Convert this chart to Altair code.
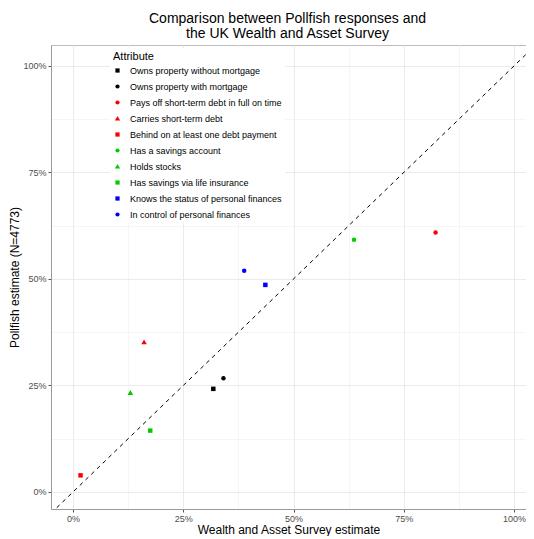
import altair as alt
import pandas as pd

attributes = [
    "Owns property without mortgage",
    "Owns property with mortgage",
    "Pays off short-term debt in full on time",
    "Carries short-term debt",
    "Behind on at least one debt payment",
    "Has a savings account",
    "Holds stocks",
    "Has savings via life insurance",
    "Knows the status of personal finances",
    "In control of personal finances",
]
was_estimate = [0.318, 0.341, 0.822, 0.161, 0.017, 0.637, 0.130, 0.175, 0.436, 0.388]
pollfish_estimate = [0.242, 0.267, 0.609, 0.352, 0.039, 0.592, 0.233, 0.144, 0.486, 0.519]
colors = ["black", "black", "red", "red", "red", "#00cc00", "#00cc00", "#00cc00", "blue", "blue"]
TRI = "M0,-1.15L1.25,1L-1.25,1Z"
shapes = ["square", "circle", "circle", TRI, "square", "circle", TRI, "square", "square", "circle"]

diag = [-0.05, 1.05]
tick_values = [0, 0.125, 0.25, 0.375, 0.5, 0.625, 0.75, 0.875, 1.0]

df = pd.DataFrame({"Attribute": attributes, "was": was_estimate, "pollfish": pollfish_estimate})
line_df = pd.DataFrame({"x": diag, "y": diag})

FONT = "Liberation Sans"
x_dom = [-0.05, 1.027]
y_dom = [-0.04, 1.049]

def make_axis(title, **kw):
    return alt.Axis(
        title=title,
        values=tick_values,
        labelExpr="datum.value % 0.25 == 0 ? format(datum.value, '.0%') : ''",
        tickOpacity={"condition": {"test": "datum.value % 0.25 == 0", "value": 1}, "value": 0},
        gridColor={"condition": {"test": "datum.value % 0.25 == 0", "value": "#e6e6e6"}, "value": "#f3f3f3"},
        gridWidth=0.8,
        tickColor="#555555",
        tickSize=3,
        labelPadding=2,
        domainColor="#9a9a9a",
        labelFont=FONT,
        labelFontSize=9,
        labelColor="#4d4d4d",
        titleFont=FONT,
        titleFontSize=12,
        titleFontWeight="normal",
        titleColor="black",
        **kw,
    )

x_enc = alt.X("was:Q", scale=alt.Scale(domain=x_dom, nice=False, zero=False),
              axis=make_axis("Wealth and Asset Survey estimate", titlePadding=1))
y_enc = alt.Y("pollfish:Q", scale=alt.Scale(domain=y_dom, nice=False, zero=False),
              axis=make_axis("Pollfish estimate (N=4773)", titleX=-30))

points = alt.Chart(df).mark_point(filled=True, size=20, opacity=1).encode(
    x=x_enc,
    y=y_enc,
    color=alt.Color("Attribute:N", scale=alt.Scale(domain=attributes, range=colors),
                    sort=attributes,
                    legend=alt.Legend(
                        orient="none", legendX=59, legendY=3,
                        title="Attribute", titleFont=FONT, titleFontSize=11,
                        titleFontWeight="normal", titleColor="black", titlePadding=4,
                        labelFont=FONT, labelFontSize=9, labelColor="black",
                        symbolSize=18, rowPadding=6, labelLimit=300, labelOffset=8,
                        fillColor="white", padding=3)),
    shape=alt.Shape("Attribute:N", scale=alt.Scale(domain=attributes, range=shapes), sort=attributes),
)

line = alt.Chart(line_df).mark_line(color="black", strokeDash=[4, 4], strokeWidth=1, clip=True).encode(
    x=alt.X("x:Q", scale=alt.Scale(domain=x_dom, nice=False, zero=False)),
    y=alt.Y("y:Q", scale=alt.Scale(domain=y_dom, nice=False, zero=False)),
)

chart = alt.layer(line, points).properties(
    width=475,
    height=464,
    autosize=alt.AutoSizeParams(type="none"),
    padding={"left": 43, "top": 37, "right": 0, "bottom": 27},
    title=alt.TitleParams(
        text=["Comparison between Pollfish responses and", "the UK Wealth and Asset Survey"],
        font=FONT, fontSize=14, fontWeight="normal", color="black",
        anchor="middle", frame="group", offset=4, lineHeight=15, dx=-1,
    ),
).configure_view(stroke="#bdbdbd", strokeWidth=1)

chart.save("out.html", embed_options={"renderer": "svg", "actions": False})
